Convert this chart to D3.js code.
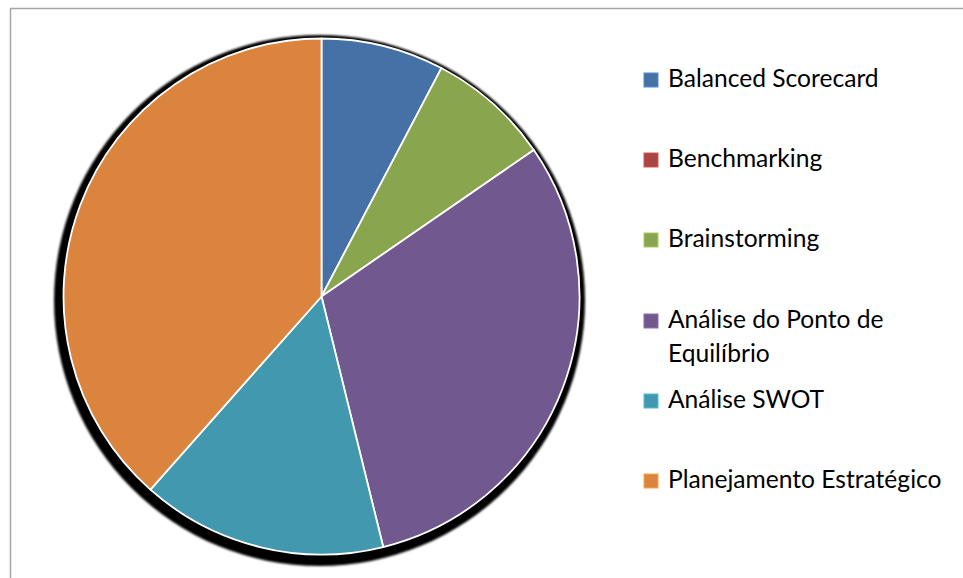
<!DOCTYPE html>
<html>
<head>
<meta charset="utf-8">
<script src="https://cdn.jsdelivr.net/npm/d3@7"></script>
<style>
  html, body { margin: 0; padding: 0; background: #fff; }
  svg { display: block; }
  .legend text { font-family: Lato, "Open Sans", sans-serif; font-size: 24.6px; fill: #000; }
</style>
</head>
<body>
<svg id="chart" width="963" height="578"></svg>
<script>
// categories and values (counts)
var categories = ['Balanced Scorecard', 'Benchmarking', 'Brainstorming',
                  'Análise do Ponto de Equilíbrio', 'Análise SWOT', 'Planejamento Estratégico'];
var values = [1, 0, 1, 4, 2, 5];
var colors = ['#4571A6', '#AA4643', '#89A54E', '#71588F', '#4198AF', '#DB843D'];
// legend labels split into lines
var legendLines = [['Balanced Scorecard'], ['Benchmarking'], ['Brainstorming'],
                   ['Análise do Ponto de', 'Equilíbrio'], ['Análise SWOT'], ['Planejamento Estratégico']];
var legendBaselines = [87, 167, 247, 328, 408, 488];

var svg = d3.select('#chart');

// outer frame (only top/left visible)
svg.append('path')
  .attr('d', 'M10.5,963 V8.5 H963')
  .attr('fill', 'none')
  .attr('stroke', '#a6a6a6')
  .attr('stroke-width', 1.5);

var defs = svg.append('defs');
defs.append('filter').attr('id', 'blur')
  .attr('x', '-10%').attr('y', '-10%').attr('width', '120%').attr('height', '120%')
  .append('feGaussianBlur').attr('stdDeviation', 0.8);

var cx = 321.5, cy = 296.5, r = 258;

// shadow behind the pie
svg.append('circle')
  .attr('cx', cx - 2)
  .attr('cy', cy + 4)
  .attr('r', r + 7.5)
  .attr('fill', '#000')
  .attr('filter', 'url(#blur)');

var data = categories.map(function(c, i) { return { name: c, value: values[i], color: colors[i] }; });

var pie = d3.pie()
  .sort(null)
  .value(function(d) { return d.value; });

var arc = d3.arc().innerRadius(0).outerRadius(r);

var g = svg.append('g').attr('transform', 'translate(' + cx + ',' + cy + ')');

g.selectAll('path.slice')
  .data(pie(data).filter(function(d) { return d.data.value > 0; }))
  .enter()
  .append('path')
  .attr('class', 'slice')
  .attr('d', arc)
  .attr('fill', function(d) { return d.data.color; })
  .attr('stroke', '#fff')
  .attr('stroke-width', 1.8)
  .attr('stroke-linejoin', 'round');

// legend
var legend = svg.append('g').attr('class', 'legend');
var items = legend.selectAll('g.item')
  .data(data)
  .enter()
  .append('g')
  .attr('class', 'item')
  .attr('transform', function(d, i) { return 'translate(0,' + legendBaselines[i] + ')'; });

items.append('rect')
  .attr('x', 644)
  .attr('y', -14)
  .attr('width', 14)
  .attr('height', 14)
  .attr('fill', function(d) { return d.color; })
  .attr('stroke', function(d) { return d3.color(d.color).brighter(0.6); })
  .attr('stroke-width', 1);

items.append('text')
  .attr('x', 668)
  .attr('y', 0)
  .each(function(d, i) {
    var t = d3.select(this);
    legendLines[i].forEach(function(line, k) {
      t.append('tspan').attr('x', 668).attr('dy', k === 0 ? 0 : 34).text(line);
    });
  });
</script>
</body>
</html>
